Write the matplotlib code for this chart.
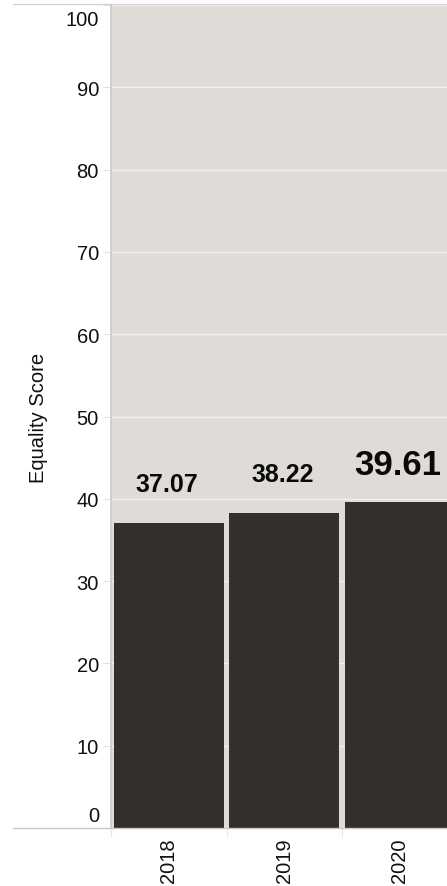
import matplotlib
matplotlib.use("Agg")
import matplotlib.pyplot as plt
from matplotlib.transforms import ScaledTranslation
from matplotlib.lines import Line2D

years = ["2018", "2019", "2020"]
scores = [37.07, 38.22, 39.61]
score_labels = ["37.07", "38.22", "39.61"]
y_ticks = [0, 10, 20, 30, 40, 50, 60, 70, 80, 90, 100]
y_label = "Equality Score"

BG = "#dfdcd8"
BAR = "#332f2a"
FONT = "Liberation Sans"

W, H, DPI = 447, 887, 100
fig = plt.figure(figsize=(W / DPI, H / DPI), dpi=DPI)
fig.patch.set_facecolor("white")

left_px, right_px, top_px, bottom_px = 111, 447, 6, 829
ax = fig.add_axes([left_px / W, (H - bottom_px) / H,
                   (right_px - left_px) / W, (bottom_px - top_px) / H])
ax.set_facecolor(BG)

x = list(range(len(years)))
ax.bar(x, scores, width=0.952, color=BAR, zorder=3)

ax.set_yticks(y_ticks)
ax.set_yticklabels([str(t) for t in y_ticks], fontsize=14.5, family=FONT, color="#111111")
ax.yaxis.grid(True, color="#f3f1ef", linewidth=1.0, zorder=1)
ax.set_axisbelow(True)
ax.tick_params(axis="y", length=5.8, width=0.8, color="#e4e4e4", pad=2.9)

ax.set_xticks(x)
ax.set_xticklabels(years, rotation=90, fontsize=14.5, family=FONT, color="#111111")
ax.tick_params(axis="x", length=0, pad=6.5)
ax.set_xticks([i - 0.5 for i in range(len(years) + 1)], minor=True)
ax.tick_params(axis="x", which="minor", length=6.5, width=0.8, color="#e8e8e8")

pitch = 115.5
ax.set_xlim(-0.5, -0.5 + (right_px - left_px) / pitch)
ax.set_ylim(0, 100)

# shift the end tick labels inward like the reference
for lbl, t in zip(ax.get_yticklabels(), y_ticks):
    if t == 100:
        lbl.set_transform(lbl.get_transform() + ScaledTranslation(0, -12 / DPI, fig.dpi_scale_trans))
    if t == 0:
        lbl.set_transform(lbl.get_transform() + ScaledTranslation(0, 14 / DPI, fig.dpi_scale_trans))

for s in ["top", "right", "bottom"]:
    ax.spines[s].set_visible(False)
ax.spines["left"].set_color("#c9c6c2")
ax.spines["left"].set_linewidth(1.1)

# baseline extending to the left
ax.plot([-(left_px - 13) / (right_px - left_px), 1], [0, 0], transform=ax.transAxes,
        color="#c8c8c8", linewidth=1.0, clip_on=False, zorder=5)

# top border line
fig.add_artist(Line2D([13 / W, 1], [1 - 5 / H, 1 - 5 / H], transform=fig.transFigure,
                      color="#d2d2d2", linewidth=1.0))

ax.set_ylabel(y_label, fontsize=14.5, family=FONT, color="#111111")
ax.yaxis.set_label_coords(-(left_px - 39) / (right_px - left_px), 0.5)
ax.yaxis.label.set_va("center")

label_sizes = [18, 18, 25]
label_offsets = [32, 32, 28]
for xi, v, txt, fs, off in zip(x, scores, score_labels, label_sizes, label_offsets):
    ax.annotate(txt, (xi, v), xytext=(-2, off), textcoords="offset pixels",
                ha="center", va="baseline", fontsize=fs, fontweight="bold",
                family=FONT, color="#0a0a0a", zorder=6)

fig.savefig("out.png", dpi=DPI)
